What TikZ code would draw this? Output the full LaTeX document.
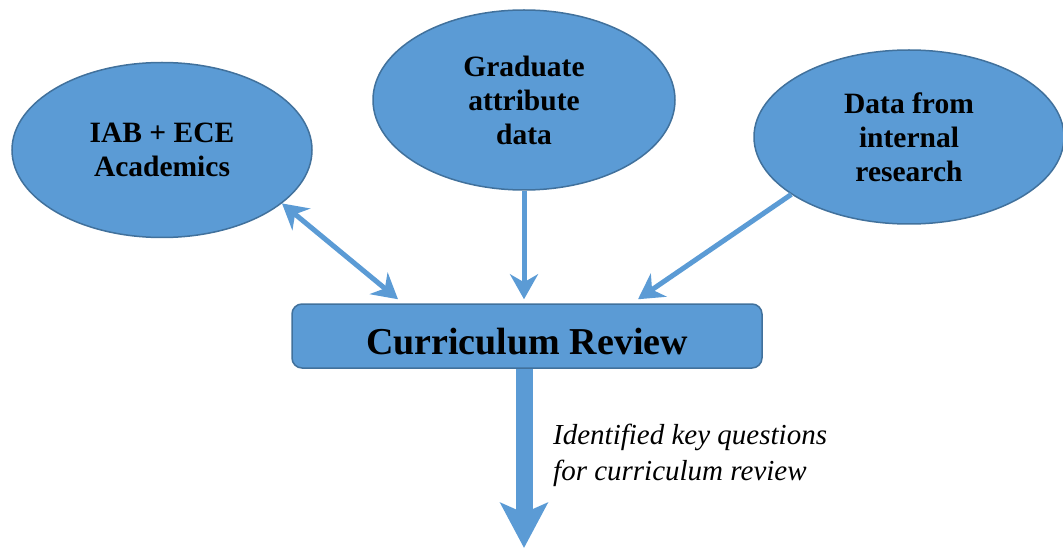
\documentclass[tikz,border=0pt]{standalone}
\usepackage{fontspec}
\setmainfont{Liberation Serif}
\usetikzlibrary{shapes.geometric,arrows.meta}
\definecolor{fillblue}{HTML}{5B9BD5}
\definecolor{edgeblue}{HTML}{41719C}

\begin{document}
\begin{tikzpicture}[
            x = 1pt, y = -1pt,
            >={Stealth[length=25pt, width=28pt, inset=8pt]},
            bubble/.style={ellipse, draw=edgeblue, line width=1.5pt, fill=fillblue, inner sep=0pt, align=center, font=\fontsize{29.5}{34}\selectfont\bfseries},
            reviewbox/.style={rectangle, rounded corners=10pt, draw=edgeblue, line width=1.5pt, fill=fillblue, minimum width=470pt, minimum height=64pt, text height=36pt, text depth=0pt, font=\fontsize{38}{46}\selectfont\bfseries},
            link/.style={fillblue, line width=5pt, ->},
            flow/.style={fillblue, line width=17pt, -{Stealth[length=45pt, width=47pt, inset=10pt]}},
            ]
        \useasboundingbox (0,0) rectangle (1063,548);

        % sources
        \node[bubble, minimum width=300pt, minimum height=175pt] (iab) at (162,150) {IAB + ECE\\Academics};
        \node[bubble, minimum width=302pt, minimum height=180pt] (grad) at (524,100) {Graduate\\attribute\\data};
        \node[bubble, minimum width=310pt, minimum height=174pt] (research) at (909,137) {Data from\\internal\\research};

        \node[reviewbox] (review) at (527,336) {Curriculum Review};

        % connectors
        \draw[link, <->] (iab.-24) -- ([xshift=-129pt, yshift=4pt]review.north);
        \draw[link] (grad.south) -- ([xshift=-3pt, yshift=4pt]review.north);
        \draw[link] (research.206) -- ([xshift=111pt, yshift=4pt]review.north);

        \coordinate (bottom) at (524,548);
        \draw[flow] (review.south -| bottom) -- (bottom);

        \node[anchor=west, inner sep=0pt, align=left, font=\fontsize{29}{36}\selectfont\itshape] (note) at (553,455) {Identified key questions\\for curriculum review};
    \end{tikzpicture}
\end{document}
